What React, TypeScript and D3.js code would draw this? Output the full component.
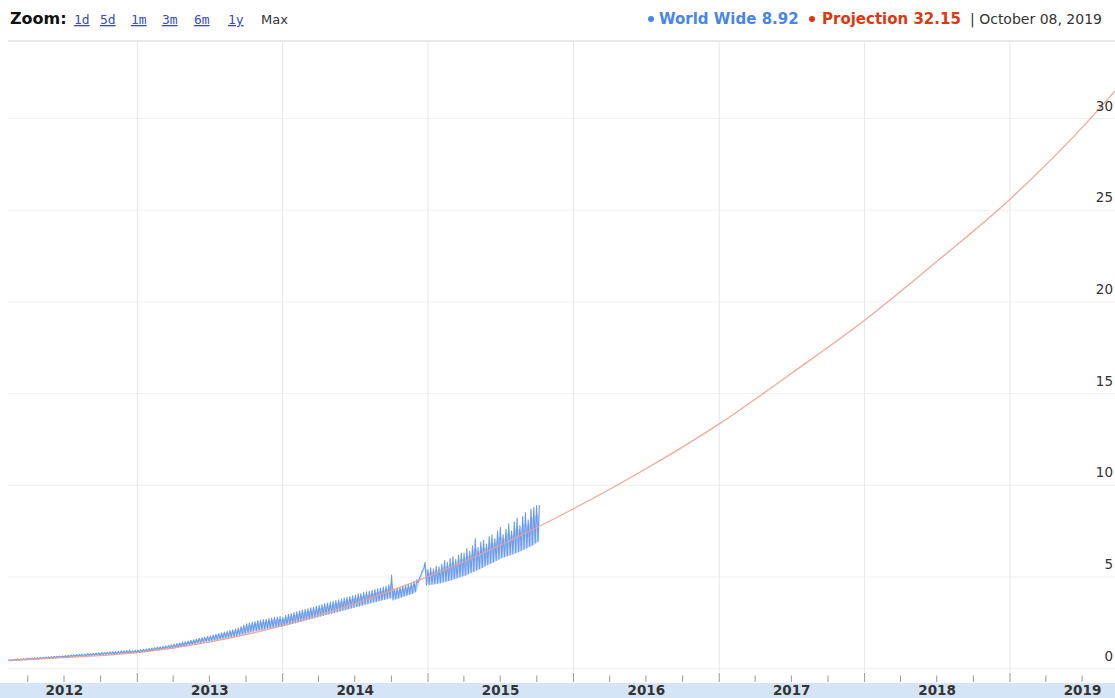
import React from 'react';
import * as d3 from 'd3';

const W = 1115;
const H = 698;

const yearLabels = [2012, 2013, 2014, 2015, 2016, 2017, 2018, 2019];
const yTickValues = [0, 5, 10, 15, 20, 25, 30];
const zoomLinks = ['1d', '5d', '1m', '3m', '6m', '1y'];

// Projection curve
const projDates = [
  '2012-02-12', '2012-07-01', '2013-01-01', '2013-07-01', '2014-01-01', '2014-07-01',
  '2015-01-01', '2015-07-01', '2016-01-01', '2016-07-01', '2017-01-01', '2017-07-01',
  '2018-01-01', '2018-07-01', '2019-01-01', '2019-07-01', '2019-10-08',
];
const projValues = [
  0.45, 0.6, 0.88, 1.45, 2.35, 3.55,
  5.02, 6.73, 8.72, 10.9, 13.35, 16.1,
  19.0, 22.2, 25.6, 29.5, 31.9,
];

// World Wide: weekly low / high, weeks starting 2012-02-12
const wwStart = '2012-02-12';
const wwLow = [
  0.42, 0.43, 0.44, 0.45, 0.46, 0.47, 0.48,
  0.49, 0.5, 0.51, 0.52, 0.53, 0.54, 0.55, 0.56, 0.57, 0.58, 0.59, 0.6, 0.61,
  0.62, 0.63, 0.64, 0.65, 0.66, 0.67, 0.68, 0.69, 0.7, 0.71, 0.72, 0.73, 0.74,
  0.75, 0.76, 0.77, 0.78, 0.79, 0.8, 0.81, 0.82, 0.83, 0.84, 0.85, 0.84, 0.86,
  0.87, 0.89, 0.9, 0.92, 0.94, 0.96, 0.98, 1.0, 1.02, 1.04, 1.06, 1.08, 1.1,
  1.12, 1.15, 1.18, 1.21, 1.24, 1.27, 1.3, 1.33, 1.36, 1.39, 1.42, 1.45, 1.48,
  1.5, 1.53, 1.56, 1.59, 1.62, 1.65, 1.68, 1.71, 1.74, 1.77, 1.8, 1.84, 1.88,
  1.92, 1.96, 2.0, 2.04, 2.07, 2.1, 2.13, 2.16, 2.19, 2.22, 2.25, 2.28, 2.3,
  2.3, 2.35, 2.38, 2.42, 2.46, 2.5, 2.54, 2.58, 2.62, 2.66, 2.7, 2.74, 2.78,
  2.82, 2.86, 2.9, 2.94, 2.98, 3.02, 3.06, 3.1, 3.14, 3.18, 3.22, 3.26, 3.3,
  3.34, 3.38, 3.42, 3.46, 3.5, 3.54, 3.58, 3.62, 3.66, 3.7, 3.74, 3.78, 3.82,
  3.85, 3.75, 3.8, 3.85, 3.9, 3.95, 4.0, 4.05, 4.1, 4.2, 4.7, 5.1, 5.45,
  4.55, 4.58, 4.6, 4.62, 4.65, 4.68, 4.72, 4.76, 4.8, 4.85, 4.9, 4.95, 5.0,
  5.05, 5.1, 5.18, 5.24, 5.3, 5.38, 5.45, 5.52, 5.6, 5.68, 5.75, 5.82, 5.9,
  5.98, 6.05, 6.1, 6.15, 6.2, 6.26, 6.32, 6.38, 6.45, 6.52, 6.6, 6.68, 6.75,
  6.85, 6.95,
];
const wwHigh = [
  0.5, 0.51, 0.52, 0.53, 0.54, 0.55, 0.56,
  0.57, 0.58, 0.6, 0.6, 0.62, 0.62, 0.64, 0.65, 0.66, 0.67, 0.68, 0.69, 0.7,
  0.72, 0.73, 0.75, 0.75, 0.77, 0.78, 0.79, 0.8, 0.82, 0.82, 0.84, 0.85, 0.86,
  0.88, 0.89, 0.9, 0.92, 0.93, 0.94, 0.95, 0.97, 0.98, 0.99, 1.0, 0.98, 1.01,
  1.02, 1.04, 1.06, 1.08, 1.1, 1.13, 1.15, 1.18, 1.2, 1.22, 1.25, 1.27, 1.3,
  1.33, 1.37, 1.4, 1.44, 1.47, 1.51, 1.55, 1.58, 1.62, 1.66, 1.69, 1.72, 1.76,
  1.8, 1.84, 1.88, 1.92, 1.96, 2.0, 2.04, 2.08, 2.12, 2.16, 2.22, 2.3, 2.38,
  2.45, 2.5, 2.54, 2.57, 2.62, 2.64, 2.68, 2.7, 2.74, 2.76, 2.8, 2.82, 2.84,
  2.8, 2.9, 2.96, 3.0, 3.06, 3.1, 3.16, 3.2, 3.24, 3.28, 3.32, 3.36, 3.42,
  3.45, 3.5, 3.55, 3.58, 3.64, 3.68, 3.72, 3.76, 3.8, 3.86, 3.9, 3.94, 3.98,
  4.02, 4.08, 4.1, 4.16, 4.2, 4.24, 4.28, 4.32, 4.36, 4.4, 4.45, 4.5, 4.58,
  5.1, 4.35, 4.4, 4.45, 4.5, 4.55, 4.6, 4.65, 4.75, 4.85, 4.95, 5.35, 5.8,
  5.4, 5.5, 5.45, 5.6, 5.55, 5.7, 5.9, 5.8, 6.0, 6.1, 5.95, 6.2, 6.3,
  6.3, 6.55, 6.4, 6.7, 7.1, 6.6, 6.9, 7.0, 6.8, 7.2, 7.3, 7.1, 7.5,
  7.7, 7.3, 7.6, 7.9, 7.5, 8.0, 8.2, 7.8, 8.3, 8.5, 8.1, 8.7, 8.8,
  8.9, 8.92,
];

const FONT = '"DejaVu Sans", Verdana, sans-serif';

export default function App() {
  const x = d3
    .scaleTime()
    .domain([new Date(2012, 0, 1), new Date(2019, 0, 1)])
    .range([-8.5, 1010]);
  const y = d3.scaleLinear().domain([0, 30]).range([668.7, 118.5]);

  const projPts: [number, number][] = projDates.map((d, i) => [
    x(new Date(d + 'T00:00:00')),
    y(projValues[i]),
  ]);
  const projPath = d3.line().curve(d3.curveMonotoneX)(projPts) || '';

  const start = new Date(wwStart + 'T00:00:00');
  const wwPts: [number, number][] = [];
  const weeks = wwLow.map((lo, i) => {
    const d0 = d3.timeDay.offset(start, 7 * i);
    const d1 = new Date(d0.getTime() + 3.5 * 864e5);
    wwPts.push([x(d0), y(lo)]);
    wwPts.push([x(d1), y(wwHigh[i])]);
    return { x: x(d1), lo, hi: wwHigh[i] };
  });
  const wwPath = d3.line()(wwPts) || '';
  const wwArea =
    d3
      .area<{ x: number; lo: number; hi: number }>()
      .x((d) => d.x)
      .y0((d) => y(d.lo))
      .y1((d) => y(d.lo + (d.hi - d.lo) * 0.75))(weeks) || '';

  const yearStarts = d3.range(2012, 2021).map((yr) => new Date(yr, 0, 1));
  const quarters = d3.timeMonth
    .every(3)!
    .range(new Date(2012, 0, 1), new Date(2020, 0, 2));

  const linkX = [74, 100, 131, 162, 194, 228];

  return (
    <div style={{ position: 'absolute', left: 0, top: 0 }}>
      <svg width={W} height={H} style={{ display: 'block', background: '#fff' }}>
        <defs>
          <clipPath id="plot">
            <rect x={8} y={42} width={W - 8} height={640} />
          </clipPath>
        </defs>
        {/* header */}
        <text x={10} y={24} fontFamily={FONT} fontWeight="bold" fontSize={16} fill="#111">
          Zoom:
        </text>
        {zoomLinks.map((l, i) => (
          <text
            key={l}
            x={linkX[i]}
            y={24}
            fontFamily='"DejaVu Sans Mono", monospace'
            fontSize={13}
            fill="#3b4cc0"
            textDecoration="underline"
          >
            {l}
          </text>
        ))}
        <text x={261} y={24} fontFamily={FONT} fontSize={13} fill="#333">
          Max
        </text>
        <circle cx={651} cy={19} r={3} fill="#4a86e8" />
        <text x={659} y={24} fontFamily={FONT} fontWeight="bold" fontSize={15} fill="#4a86e8">
          World Wide 8.92
        </text>
        <circle cx={812} cy={19} r={3} fill="#dc3912" />
        <text x={822} y={24} fontFamily={FONT} fontWeight="bold" fontSize={15} fill="#dc3912">
          Projection 32.15
        </text>
        <text x={970} y={24} fontFamily={FONT} fontSize={14} fill="#333">
          | October 08, 2019
        </text>
        <line x1={8} x2={W} y1={41} y2={41} stroke="#e2e2e2" strokeWidth={1.5} />

        {/* gridlines */}
        {yTickValues.map((v) => (
          <line key={'h' + v} x1={8} x2={W} y1={y(v)} y2={y(v)} stroke="#efefef" strokeWidth={1} />
        ))}
        {yearStarts
          .filter((d) => x(d) > 8 && x(d) < W)
          .map((d) => (
            <line
              key={'v' + d.getFullYear()}
              x1={x(d)}
              x2={x(d)}
              y1={42}
              y2={672}
              stroke="#e6e6e6"
              strokeWidth={1}
            />
          ))}

        {/* series */}
        <g clipPath="url(#plot)">
          <path d={wwArea} fill="#9dbcf2" opacity={0.55} />
          <path d={wwPath} fill="none" stroke="#6b9bec" strokeWidth={1.1} strokeLinejoin="round" />
          <path d={projPath} fill="none" stroke="#f0a090" strokeWidth={1.3} opacity={0.9} />
        </g>

        {/* y labels */}
        {yTickValues.map((v) => (
          <text
            key={'yl' + v}
            x={1113}
            y={y(v) - 8}
            textAnchor="end"
            fontFamily={FONT}
            fontSize={13.5}
            fill="#333"
          >
            {v}
          </text>
        ))}

        {/* x axis */}
        <rect x={0} y={683} width={W} height={H - 683} fill="#d5e4f6" />
        {quarters
          .filter((d) => x(d) > 8 && x(d) < W)
          .map((d) => {
            const major = d.getMonth() === 0;
            return (
              <line
                key={'t' + d.getTime()}
                x1={x(d)}
                x2={x(d)}
                y1={major ? 673 : 675.5}
                y2={682}
                stroke="#999"
                strokeWidth={1}
              />
            );
          })}
        {yearLabels.map((yr) => (
          <text
            key={'xl' + yr}
            x={x(new Date(yr, 6, 2))}
            y={695}
            textAnchor="middle"
            fontFamily={FONT}
            fontWeight="bold"
            fontSize={13.5}
            fill="#333"
          >
            {yr}
          </text>
        ))}
      </svg>
    </div>
  );
}
